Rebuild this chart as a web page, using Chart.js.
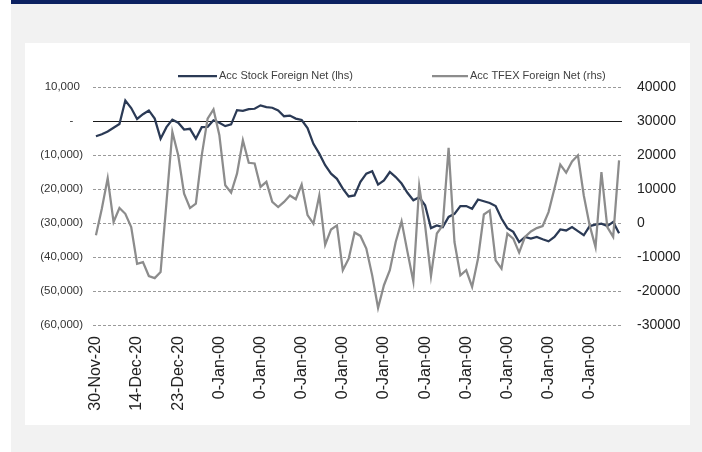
<!DOCTYPE html>
<html>
<head>
<meta charset="utf-8">
<script src="https://cdn.jsdelivr.net/npm/chart.js@4/dist/chart.umd.min.js"></script>
<style>
  html, body { margin: 0; padding: 0; background: #fff; }
  #page { position: absolute; left: 11px; top: 0; width: 691px; height: 452px; background: #f2f2f2; }
  #bar { position: absolute; left: 11px; top: 0; width: 691px; height: 4px; background: #0c2161; }
  #panel { position: absolute; left: 25px; top: 43px; width: 665px; height: 382px; background: #fff; }
</style>
</head>
<body>
<div id="page"></div>
<div id="bar"></div>
<div id="panel"><canvas id="flows" width="665" height="382"></canvas></div>
<script>
// one label every 7 trading days
var tickLabels = ["30-Nov-20", "14-Dec-20", "23-Dec-20", "0-Jan-00", "0-Jan-00", "0-Jan-00",
  "0-Jan-00", "0-Jan-00", "0-Jan-00", "0-Jan-00", "0-Jan-00", "0-Jan-00", "0-Jan-00"];

var stockNet = [-4500, -3900, -3100, -2000, -900, 6000, 3800, 600, 2000, 3100,
  700, -5200, -1800, 400, -500, -2500, -2300, -5200, -1800, -1700,
  200, -500, -1500, -1000, 3200, 3000, 3500, 3600, 4600, 4100,
  3900, 3100, 1400, 1600, 700, 300, -2100, -6700, -9600, -13000,
  -15500, -17000, -19900, -22200, -21900, -17900, -15500, -14800, -18700, -17500,
  -15000, -16500, -18400, -21100, -23300, -22400, -24800, -31500, -30700, -31200,
  -28200, -27300, -25000, -25000, -25800, -23100, -23600, -24100, -25000, -28700,
  -31500, -32600, -35600, -34100, -34600, -34100, -34800, -35400, -34100, -31900,
  -32200, -31200, -32400, -33600, -30900, -30500, -30200, -30900, -29700, -33000];

var tfexNet = [-3600, 4200, 13200, 300, 4400, 2700, -1200, -12000, -11500, -15600,
  -16200, -14400, 6000, 26800, 19900, 8600, 4400, 5700, 19900, 30700,
  33400, 25800, 11100, 8900, 14500, 24300, 17700, 17500, 10600, 12100,
  6200, 4700, 6200, 8100, 7000, 11300, 2300, -200, 8100, -6400,
  -1900, -700, -13900, -10500, -2800, -3800, -7500, -15400, -25000, -18300,
  -13900, -5600, 500, -8500, -17200, 10900, -700, -15600, -3100, -700,
  22100, -5600, -15400, -13900, -18800, -10500, 2500, 3700, -11000, -13400,
  -3100, -4600, -8700, -4100, -2500, -1500, -900, 3200, 10100, 17200,
  14800, 18100, 19900, 8100, -700, -7100, 15000, -1200, -4100, 18400];

var categories = stockNet.map(function(v, i) {
  return i % 7 === 0 ? tickLabels[i / 7] : "";
});

function withCommas(n) {
  return n.toString().replace(/\B(?=(\d{3})+(?!\d))/g, ",");
}

// legend drawn by hand so the two items sit far apart like the original
var legendPlugin = {
  id: 'wideLegend',
  afterDraw: function(chart) {
    var c = chart.ctx;
    var spots = [[153, 192, 194], [407, 443, 445]];
    var ds = chart.data.datasets;
    c.save();
    c.font = '11px "Liberation Sans", Arial, sans-serif';
    c.textBaseline = 'middle';
    c.fillStyle = '#404040';
    for (var i = 0; i < ds.length; i++) {
      var s = spots[i];
      c.strokeStyle = ds[i].borderColor;
      c.lineWidth = 2.25;
      c.beginPath();
      c.moveTo(s[0], 33);
      c.lineTo(s[1], 33);
      c.stroke();
      c.fillText(ds[i].label, s[2], 33);
    }
    c.restore();
  }
};

var ctx = document.getElementById("flows");
var chart = new Chart(ctx, {
  type: 'line',
  data: {
    labels: categories,
    datasets: [{
      label: "Acc Stock Foreign Net (lhs)",
      data: stockNet,
      yAxisID: 'yLeft',
      borderColor: "#2b3a55",
      borderWidth: 2.25,
      pointRadius: 0,
      tension: 0,
      order: 1
    }, {
      label: "Acc TFEX Foreign Net (rhs)",
      data: tfexNet,
      yAxisID: 'yRight',
      borderColor: "#8c8c8c",
      borderWidth: 2.25,
      pointRadius: 0,
      tension: 0,
      order: 0
    }]
  },
  options: {
    responsive: false,
    animation: false,
    layout: { padding: { top: 44, left: 0, right: 0, bottom: 0 } },
    plugins: {
      legend: { display: false },
      tooltip: { enabled: false }
    },
    scales: {
      x: {
        type: 'category',
        offset: true,
        grid: { display: false, drawTicks: false },
        border: { display: false },
        ticks: {
          autoSkip: false,
          minRotation: 90,
          maxRotation: 90,
          padding: 11,
          color: '#222',
          font: { family: '"Liberation Sans", Arial, sans-serif', size: 16 }
        },
        afterFit: function(s) { s.height = 100; }
      },
      yLeft: {
        position: 'left',
        min: -60000,
        max: 10000,
        grid: {
          drawTicks: false,
          lineWidth: 1,
          color: function(c) { return c.tick && c.tick.value === 0 ? '#1a1a1a' : '#9a9a9a'; }
        },
        border: {
          display: false,
          dash: function(c) { return c.tick && c.tick.value === 0 ? [] : [3, 2]; }
        },
        ticks: {
          stepSize: 10000,
          padding: 10,
          color: '#333',
          font: { family: '"Liberation Sans", Arial, sans-serif', size: 11.5 },
          callback: function(v) {
            if (v === 0) return '-   ';
            if (v < 0) return '(' + withCommas(-v) + ')';
            return withCommas(v) + ' ';
          }
        },
        afterFit: function(s) { s.width = 68; }
      },
      yRight: {
        position: 'right',
        min: -30000,
        max: 40000,
        grid: { display: false, drawTicks: false },
        border: { display: false },
        ticks: {
          stepSize: 10000,
          padding: 15,
          color: '#222',
          font: { family: '"Liberation Sans", Arial, sans-serif', size: 14 },
          callback: function(v) { return String(v); }
        },
        afterFit: function(s) { s.width = 68; }
      }
    }
  },
  plugins: [legendPlugin]
});
</script>
</body>
</html>
